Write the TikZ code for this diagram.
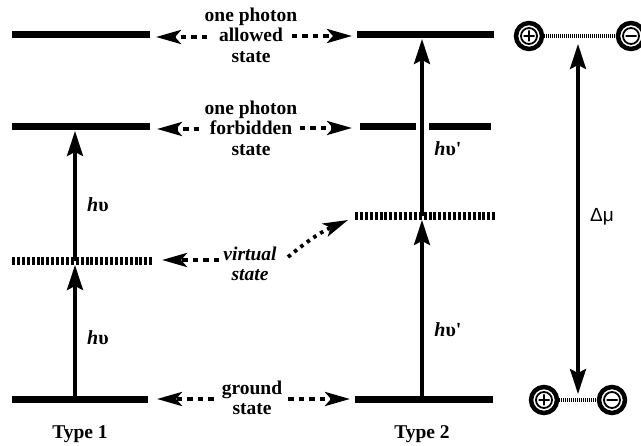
\documentclass[tikz,border=0pt]{standalone}
\usepackage{fontspec}
\setmainfont{Liberation Serif}
\newfontfamily\greeksans{Liberation Sans}
\usetikzlibrary{arrows.meta}

\begin{document}
\begin{tikzpicture}[x=1pt,y=-1pt,
  level/.style={line width=7pt},
  vlevel/.style={line width=8pt, dash pattern=on 3pt off 1.9pt},
  photon/.style={line width=3.4pt, -{Stealth[length=25pt,width=16pt,inset=4pt]}},
  pointer/.style={line width=3.8pt, dash pattern=on 5.5pt off 5pt,
    -{Stealth[length=25pt,width=14pt,inset=6pt]}},
  lbl/.style={font=\bfseries\fontsize{19.5}{20.5}\selectfont, align=center, inner sep=0pt},
  hv/.style={font=\bfseries\fontsize{20}{20}\selectfont, inner sep=0pt},
  chargering/.style={circle, draw, line width=4.5pt, minimum size=26pt, inner sep=0pt},
  poscharge/.style={chargering, path picture={
    \draw[line width=1.8pt] (path picture bounding box.center) circle (8pt)
      ++(-5.5pt,0pt) -- ++(11pt,0pt) ++(-5.5pt,-5.5pt) -- ++(0pt,11pt);}},
  negcharge/.style={chargering, path picture={
    \draw[line width=1.8pt] (path picture bounding box.center) circle (8pt)
      ++(-5.5pt,0pt) -- ++(11pt,0pt);}},
  pair/.style={line width=3.4pt, dash pattern=on 1.1pt off 0.9pt},
]
\useasboundingbox (0,0) rectangle (641,446);

% ---------- Type 1 levels ----------
\coordinate (a1w) at (12,35);  \coordinate (a1e) at (150,35);
\coordinate (f1w) at (12,127); \coordinate (f1e) at (150,127);
\coordinate (v1w) at (12,261); \coordinate (v1e) at (152,261);
\coordinate (g1w) at (12,400); \coordinate (g1e) at (148,400);
\draw[level] (a1w) -- (a1e);
\draw[level] (f1w) -- (f1e);
\draw[vlevel] (v1w) -- (v1e);
\draw[level] (g1w) -- (g1e);

% ---------- Type 2 levels ----------
\coordinate (a2w) at (357,35);  \coordinate (a2e) at (494,35);
\coordinate (f2w) at (360,127); \coordinate (f2m) at (416,127);
\coordinate (f2n) at (429,127); \coordinate (f2e) at (491,127);
\coordinate (v2w) at (355,216); \coordinate (v2e) at (497,216);
\coordinate (g2w) at (355,400); \coordinate (g2e) at (493,400);
\draw[level] (a2w) -- (a2e);
\draw[level] (f2w) -- (f2m);
\draw[level] (f2n) -- (f2e);
\draw[vlevel] (v2w) -- (v2e);
\draw[level] (g2w) -- (g2e);

% ---------- photon absorption arrows ----------
\coordinate (p1a) at (75,400); \coordinate (p1b) at (75,265);
\coordinate (p1c) at (75,261); \coordinate (p1d) at (75,131);
\draw[photon] (p1a) -- (p1b);
\draw[photon] (p1c) -- (p1d);
\coordinate (p2a) at (422,400); \coordinate (p2b) at (422,220);
\coordinate (p2c) at (422,216); \coordinate (p2d) at (422,39);
\draw[photon] (p2a) -- (p2b);
\draw[photon] (p2c) -- (p2d);

\node[hv] (h1u) at (98,205) {\textit{h}υ};
\node[hv] (h1l) at (98,338) {\textit{h}υ};
\node[hv] (h2u) at (448,149) {\textit{h}υ\textquotesingle};
\node[hv] (h2l) at (448,330) {\textit{h}υ\textquotesingle};

% ---------- state labels with pointers ----------
\node[lbl] (allowed) at (251,35) {one photon\\allowed\\state};
\coordinate (alL) at (156,37); \coordinate (alR) at (352,36);
\draw[pointer] ([xshift=3pt]allowed.west |- alL) -- (alL);
\draw[pointer] ([xshift=-6pt]allowed.east |- alR) -- (alR);

\node[lbl] (forbidden) at (251,128) {one photon\\forbidden\\state};
\coordinate (fbL) at (157,129); \coordinate (fbR) at (352,128);
\draw[pointer] ([xshift=-5pt]forbidden.west |- fbL) -- (fbL);
\draw[pointer] ([xshift=2pt]forbidden.east |- fbR) -- (fbR);

\node[lbl, font=\bfseries\itshape\fontsize{19.5}{20.5}\selectfont] (virtual) at (250,264) {virtual\\state};
\coordinate (viL) at (162,260);
\coordinate (viS) at (288,257); \coordinate (viR) at (348,220);
\draw[pointer] ([xshift=-4pt]virtual.west |- viL) -- (viL);
\draw[pointer, dash pattern=on 3.5pt off 4.5pt] (viS) to[bend left=8] (viR);

\node[lbl] (ground) at (252,398) {ground\\state};
\coordinate (grL) at (157,399); \coordinate (grR) at (350,399);
\draw[pointer] ([xshift=-8pt]ground.west |- grL) -- (grL);
\draw[pointer] ([xshift=6pt]ground.east |- grR) -- (grR);

% ---------- column titles ----------
\node[lbl] (type1) at (80,434) {Type 1};
\node[lbl] (type2) at (422,434) {Type 2};

% ---------- charge separation ----------
\node[poscharge] (pp1) at (529,36) {};
\node[negcharge] (nn1) at (631,36) {};
\node[poscharge] (pp2) at (544,400) {};
\node[negcharge] (nn2) at (612,400) {};
\draw[pair] (pp1) -- (nn1);
\draw[pair] (pp2) -- (nn2);
\coordinate (dmT) at (578,44); \coordinate (dmB) at (578,394);
\draw[line width=3.4pt, {Stealth[length=25pt,width=16pt,inset=4pt]}-{Stealth[length=25pt,width=16pt,inset=4pt]}] (dmT) -- (dmB);
\node[font=\greeksans\fontsize{19}{19}\selectfont, inner sep=0pt] (dmu) at (602,217) {Δμ};
\end{tikzpicture}
\end{document}
